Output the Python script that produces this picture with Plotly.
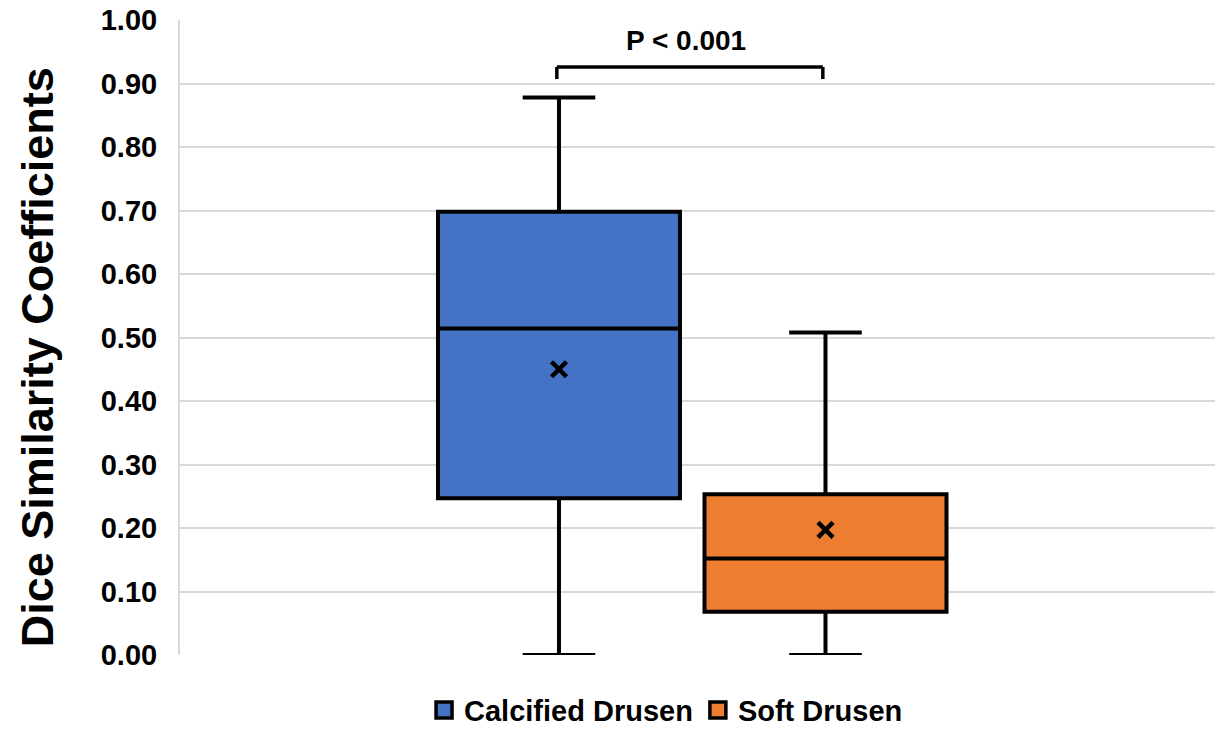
import plotly.graph_objects as go

# ---- data ----
groups = ["Calcified Drusen", "Soft Drusen"]
positions = [0, 1]
q1 = [0.247, 0.068]
median = [0.514, 0.152]
q3 = [0.698, 0.253]
lower_whisker = [0.0, 0.0]
upper_whisker = [0.878, 0.508]
means = [0.450, 0.197]
colors = ["#4472C4", "#ED7D31"]
y_ticks = [0.0, 0.1, 0.2, 0.3, 0.4, 0.5, 0.6, 0.7, 0.8, 0.9, 1.0]
p_label = "P < 0.001"
bracket_y = 0.926
bracket_drop = 0.907

FONT = "Liberation Sans, Arial, sans-serif"

fig = go.Figure()

for i, g in enumerate(groups):
    fig.add_trace(go.Box(
        x=[positions[i]], q1=[q1[i]], median=[median[i]], q3=[q3[i]],
        lowerfence=[lower_whisker[i]], upperfence=[upper_whisker[i]],
        width=0.908, whiskerwidth=0.3,
        fillcolor=colors[i], line=dict(color="black", width=4),
        boxpoints=False, showlegend=False, hoverinfo="skip", name=g,
    ))

# mean markers
fig.add_trace(go.Scatter(
    x=positions, y=means, mode="markers",
    marker=dict(symbol="x-thin", size=15, line=dict(color="black", width=4.5)),
    showlegend=False, hoverinfo="skip",
))

# legend entries
for i, g in enumerate(groups):
    fig.add_trace(go.Scatter(
        x=[None], y=[None], mode="markers", name=g,
        marker=dict(symbol="square", size=16, color=colors[i],
                    line=dict(color="black", width=3.5)),
    ))

# significance bracket
x0, x1 = positions[0] - 0.008, positions[1] - 0.01
for (xa, ya, xb, yb) in [(x0, bracket_drop, x0, bracket_y),
                         (x0, bracket_y, x1, bracket_y),
                         (x1, bracket_y, x1, bracket_drop)]:
    fig.add_shape(type="line", xref="x", yref="y", x0=xa, y0=ya, x1=xb, y1=yb,
                  line=dict(color="black", width=3.5))
fig.add_annotation(x=0.476, y=0.9685, xref="x", yref="y", text="<b>%s</b>" % p_label,
                   showarrow=False, font=dict(family=FONT, size=28, color="black"))

# y axis title
fig.add_annotation(x=-0.138, y=0.469, xref="paper", yref="paper",
                   text="<b>Dice Similarity Coefficients</b>", textangle=-90,
                   showarrow=False, xanchor="center", yanchor="middle",
                   font=dict(family=FONT, size=45, color="black"))

fig.update_layout(
    width=1215, height=730,
    margin=dict(l=180, r=0, t=20, b=75, autoexpand=False),
    plot_bgcolor="white", paper_bgcolor="white",
    font=dict(family=FONT, color="black"),
    xaxis=dict(range=[-1.422, 2.4615], showgrid=False, zeroline=False,
               showticklabels=False, showline=False, fixedrange=True),
    yaxis=dict(range=[0, 1], tickvals=y_ticks, tickformat=".2f",
               showgrid=True, gridcolor="#d9d9d9", gridwidth=2,
               zeroline=False, showline=True, linecolor="#d9d9d9", linewidth=2,
               ticks="", ticklabelstandoff=15,
               tickfont=dict(family=FONT, size=29, color="black", weight="bold")),
    legend=dict(orientation="h", x=0.4696, xanchor="center", y=-0.127, yanchor="bottom",
                font=dict(family=FONT, size=29, color="black", weight="bold"),
                itemsizing="trace", traceorder="normal", bgcolor="rgba(0,0,0,0)"),
    showlegend=True,
)

fig.write_html("out.html")
